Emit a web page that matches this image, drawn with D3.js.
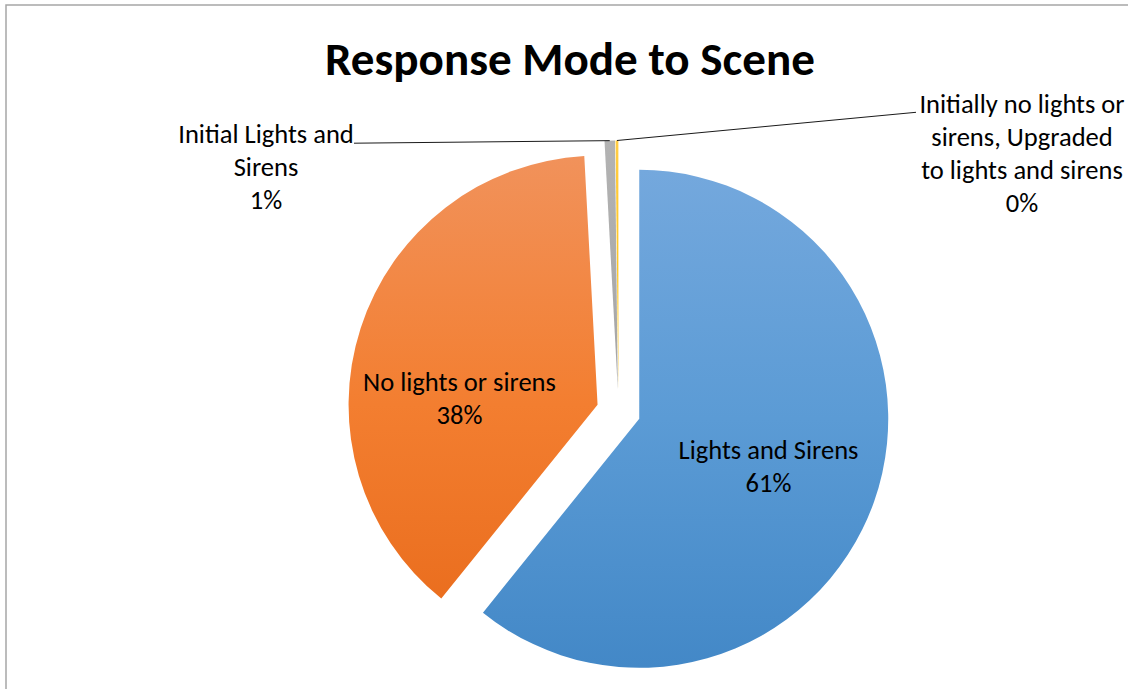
<!DOCTYPE html>
<html>
<head>
<meta charset="utf-8">
<script src="https://cdn.jsdelivr.net/npm/d3@7"></script>
<style>
  html, body { margin: 0; padding: 0; background: #fff; }
  svg { display: block; }
  text { font-family: Carlito, Calibri, Lato, "Open Sans", sans-serif; fill: #000; }
</style>
</head>
<body>
<svg id="chart" width="1128" height="689"></svg>
<script>
// ---- data ----
const title = "Response Mode to Scene";
const categories = [
  "Lights and Sirens",
  "No lights or sirens",
  "Initial Lights and Sirens",
  "Initially no lights or sirens, Upgraded to lights and sirens"
];
const values = [60.8, 38.35, 0.67, 0.18];
const labelLines = [
  ["Lights and Sirens"],
  ["No lights or sirens"],
  ["Initial Lights and", "Sirens"],
  ["Initially no lights or", "sirens, Upgraded", "to lights and sirens"]
];

// ---- layout / style ----
const W = 1128, H = 689;
const cx = 618.5, cy = 411.5, R = 249, explode = 22;
const colorStops = [
  ["#74a8dd", "#5b9bd5", "#4388c7"],
  ["#f1925b", "#f37e30", "#e86a1a"],
  ["#b3b3b3", "#a5a5a5", "#989898"],
  ["#ffcd45", "#ffc000", "#f5b400"]
];
// label anchor (center x, first baseline y)
const labelPos = [
  {x: 768.5, y: 458.5},
  {x: 459.5, y: 390.7},
  {x: 266, y: 143.3},
  {x: 1022, y: 113.3}
];
const leaderStart = [null, null, {x: 354, y: 143.2}, {x: 916, y: 112.3}];
const lineH = 33;

const svg = d3.select("#chart");

// border (partially visible chart area frame)
svg.append("path")
  .attr("d", `M6,${H + 2} L6,5 L${W + 2},5`)
  .attr("fill", "none")
  .attr("stroke", "#a6a6a6")
  .attr("stroke-width", 1.5);

// gradients (in each slice's local coordinates)
const defs = svg.append("defs");
colorStops.forEach((cs, i) => {
  const g = defs.append("linearGradient")
    .attr("id", "grad" + i)
    .attr("gradientUnits", "userSpaceOnUse")
    .attr("x1", 0).attr("x2", 0)
    .attr("y1", -R).attr("y2", R);
  g.append("stop").attr("offset", 0).attr("stop-color", cs[0]);
  g.append("stop").attr("offset", 0.5).attr("stop-color", cs[1]);
  g.append("stop").attr("offset", 1).attr("stop-color", cs[2]);
});

const total = d3.sum(values);
const pie = d3.pie().sort(null).value(d => d).startAngle(0).endAngle(2 * Math.PI);
const arcs = pie(values);
const arc = d3.arc().innerRadius(0).outerRadius(R);

function offsetOf(a) {
  const m = (a.startAngle + a.endAngle) / 2;
  return [cx + explode * Math.sin(m), cy - explode * Math.cos(m)];
}

const g = svg.append("g");
g.selectAll("path.slice")
  .data(arcs)
  .join("path")
  .attr("class", "slice")
  .attr("transform", d => { const o = offsetOf(d); return `translate(${o[0]},${o[1]})`; })
  .attr("d", arc)
  .attr("fill", (d, i) => `url(#grad${i})`);

// leader lines
arcs.forEach((a, i) => {
  if (!leaderStart[i]) return;
  const o = offsetOf(a);
  const m = (a.startAngle + a.endAngle) / 2;
  const ex = o[0] + R * Math.sin(m), ey = o[1] - R * Math.cos(m);
  svg.append("line")
    .attr("x1", leaderStart[i].x).attr("y1", leaderStart[i].y)
    .attr("x2", ex).attr("y2", ey)
    .attr("stroke", "#1a1a1a")
    .attr("stroke-width", 1);
});

// font fitting helper
function fitSize(str, weight, target) {
  const t = svg.append("text").attr("font-size", 20).attr("font-weight", weight).text(str);
  const w = t.node().getComputedTextLength();
  t.remove();
  return 20 * target / w;
}
const labelSize = fitSize("No lights or sirens", "normal", 193);
const titleSize = fitSize(title, "bold", 490);

// title
svg.append("text")
  .attr("x", 570).attr("y", 74.5)
  .attr("text-anchor", "middle")
  .attr("font-weight", "bold")
  .attr("font-size", titleSize)
  .text(title);

// data labels
arcs.forEach((a, i) => {
  const lines = labelLines[i].concat([Math.round(values[i] / total * 100) + "%"]);
  const t = svg.append("text")
    .attr("text-anchor", "middle")
    .attr("font-size", labelSize);
  lines.forEach((s, k) => {
    t.append("tspan")
      .attr("x", labelPos[i].x)
      .attr("y", labelPos[i].y + k * lineH)
      .text(s);
  });
});
</script>
</body>
</html>
